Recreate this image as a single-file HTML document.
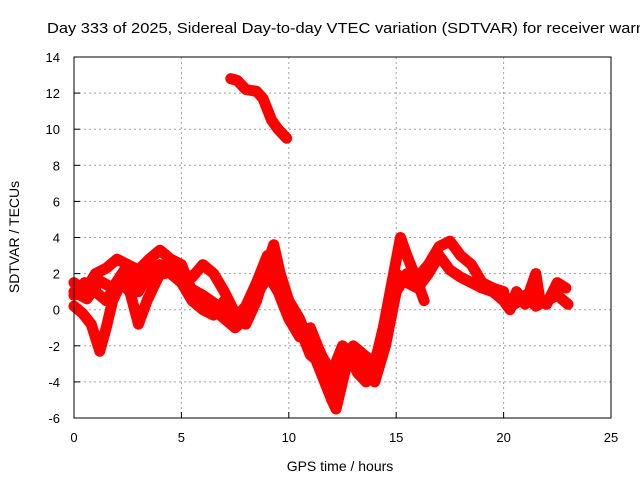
<!DOCTYPE html>
<html><head><meta charset="utf-8"><style>
body{margin:0;background:#fff}
svg{display:block;font-family:"Liberation Sans",sans-serif}
</style></head><body>
<svg id="c" width="640" height="480"></svg>
<script>
const xTicks=[0,5,10,15,20,25];
const yTicks=[-6,-4,-2,0,2,4,6,8,10,12,14];
const t1=[[7.3,12.8],[7.6,12.7],[8,12.2],[8.5,12.1],[8.8,11.7],[9.2,10.5],[9.5,10.0],[9.9,9.5]];
const t2=[[0,0.2],[0.4,-0.2],[0.8,-0.8],[1.2,-2.3],[1.5,-1.0],[1.8,0.5],[2.2,1.5],[2.6,1.0],[3,-0.8],[3.4,0.5],[3.8,1.5],[4.2,2.5],[4.7,2.6],[5.1,2.0],[5.5,1.8],[6,2.5],[6.5,2.0],[7,1.0],[7.5,-0.2],[8,-0.8],[8.5,0.5],[9,2.5],[9.3,3.6],[9.6,2.0],[10,0.5],[10.5,-0.5],[11,-2.0],[11.5,-3.5],[12,-5.0],[12.2,-5.5],[12.5,-4.0],[12.8,-2.5],[13.2,-3.5],[13.6,-4.0],[14,-3.0],[14.4,-1.0],[14.8,1.5],[15.2,4.0],[15.5,3.0],[16,1.5],[16.3,0.5]];
const t3=[[0,1.5],[0.5,1.0],[1,2.0],[1.5,2.3],[2,2.8],[2.5,2.5],[3,2.2],[3.5,2.8],[4,3.3],[4.5,2.8],[5,2.5],[5.5,1.0],[6,0.2],[6.5,0],[7,-0.5],[7.5,-1.0],[8,-0.5],[8.5,1.0],[9,2.0],[9.5,1.0],[10,-0.5],[10.5,-1.5],[11,-1.0],[11.5,-2.5],[12,-3.5],[12.5,-2.0],[13,-2.5],[13.5,-3.0],[14,-4.0],[14.5,-2.0],[15,1.0],[15.5,2.0],[16,1.8],[16.5,2.5],[17,3.5],[17.5,3.8],[18,3.0],[18.5,2.5],[19,1.5],[19.5,1.2],[20,1.0]];
const t4=[[15,2.0],[15.5,1.5],[16,1.2],[16.5,2.0],[17,3.0],[17.5,2.2],[18,1.8],[18.5,1.5],[19,1.2],[19.5,1.0],[20,0.5],[20.3,0],[20.6,1.0],[21,0.3],[21.5,2.0],[21.7,0.5],[22,0.3],[22.5,1.5],[22.9,1.2]];
const t5=[[0,0.8],[0.5,1.5],[1,1.0],[1.5,0.5],[2,1.5],[2.5,2.0],[3,1.0],[3.5,2.0],[4,2.5],[4.5,2.0],[5,1.5],[5.5,0.5],[6,0],[6.5,-0.3],[7,0.5],[7.5,-0.5],[8,0.2],[8.5,1.5],[9,3.0],[9.5,2.0],[10,0],[10.5,-1.0],[11,-2.5],[11.5,-3.0],[12,-4.5],[12.5,-3.0],[13,-2.0],[13.5,-2.5],[14,-3.0],[14.5,-0.5],[15,1.5]];
const t6=[[19.5,1.2],[20,0.8],[20.5,0.3],[21,0.8],[21.5,0.2],[22,0.5],[22.5,0.8],[23,0.3]];
const t7=[[0,1.0],[0.6,0.6],[1.2,1.6],[1.8,1.2],[2.4,2.3],[3,1.6],[3.6,2.4],[4.2,2.0],[4.8,2.2],[5.4,1.2],[6,0.8],[6.6,0.3],[7.2,0.0],[7.8,-0.6],[8.4,0.6],[9,1.8],[9.6,1.2],[10.2,-0.2],[10.8,-1.8],[11.4,-2.2],[12,-3.8],[12.6,-2.6],[13.2,-2.2],[13.8,-3.4],[14.4,-1.5]];
const tracks=[t1,t2,t3,t4,t5,t6,t7];
const L=74,R=611,T=57,B=418;
const xs=h=>L+(h-0)/25*(R-L);
const ys=v=>B-(v+6)/20*(B-T);
const svg=document.getElementById('c');
const NS='http://www.w3.org/2000/svg';
function mk(tag,a,txt){const e=document.createElementNS(NS,tag);for(const k in a)e.setAttribute(k,a[k]);if(txt!==undefined)e.textContent=txt;svg.appendChild(e);return e;}
xTicks.forEach(t=>{const x=xs(t);
 if(t>0&&t<25){const g=mk('line',{x1:x,x2:x,y1:T,y2:B,stroke:'#a0a0a0','stroke-dasharray':'2,3'});
 
 }
 const tk=mk('line',{x1:x,x2:x,y1:B,y2:B-6,stroke:'#000'});
 
 
 const lb=mk('text',{x:x,y:B+24,'text-anchor':'middle','font-size':13},t);
 
 });
yTicks.forEach(t=>{const y=ys(t);
 if(t>-6&&t<14){const g=mk('line',{x1:L,x2:R,y1:y,y2:y,stroke:'#a0a0a0','stroke-dasharray':'2,3'});
 
 }
 const tk=mk('line',{x1:L,x2:L+6,y1:y,y2:y,stroke:'#000'});
 
 
 const lb=mk('text',{x:L-14,y:y+5,'text-anchor':'end','font-size':13},t);
 
 });
tracks.forEach(tr=>{
 const p=mk('polyline',{points:tr.map(d=>xs(d[0])+','+ys(d[1])).join(' '),fill:'none',stroke:'#ff0000','stroke-width':11,'stroke-linejoin':'round','stroke-linecap':'round'});
 
 
 tr.forEach(d=>{const m=mk('path',{d:`M${xs(d[0])-5},${ys(d[1])}h10M${xs(d[0])},${ys(d[1])-5}v10`,stroke:'#ff0000','stroke-width':1.5});
 
 });
});
const fr=mk('rect',{x:L,y:T,width:R-L,height:B-T,fill:'none',stroke:'#000','stroke-width':1});


const ti=mk('text',{x:47,y:33,'font-size':15,textLength:598,lengthAdjust:'spacingAndGlyphs'},'Day 333 of 2025, Sidereal Day-to-day VTEC variation (SDTVAR) for receiver warn');


const xl=mk('text',{x:340,y:471,'text-anchor':'middle','font-size':14},'GPS time / hours');


const yl=mk('text',{x:0,y:0,'text-anchor':'middle','font-size':14,transform:'translate(19,237) rotate(-90)'},'SDTVAR / TECUs');


</script>
</body></html>
